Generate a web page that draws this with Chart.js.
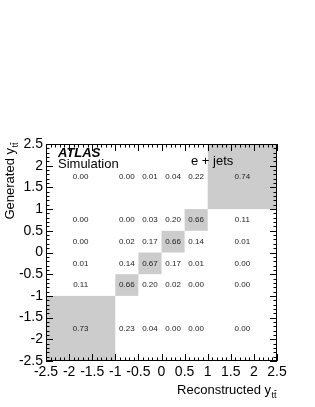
<!DOCTYPE html>
<html><head><meta charset="utf-8">
<script src="https://cdn.jsdelivr.net/npm/chart.js@4/dist/chart.umd.min.js"></script>
<style>html,body{margin:0;padding:0;background:#fff;}canvas{display:block}</style>
</head><body>
<div style="width:315px;height:407px"><canvas id="c" width="315" height="407"></canvas></div>
<script>
// Bin edges (rapidity of the ttbar system)
const recoEdges = [-2.5, -1, -0.5, 0, 0.5, 1, 2.5];
const genEdges  = [-2.5, -1, -0.5, 0, 0.5, 1, 2.5];
const xTickLabels = ['-2.5','-2','-1.5','-1','-0.5','0','0.5','1','1.5','2','2.5'];
const yTickLabels = ['-2.5','-2','-1.5','-1','-0.5','0','0.5','1','1.5','2','2.5'];
// Migration fractions, one array per generated bin (bottom to top), reconstructed bins left to right
const genBin1 = [0.73, 0.23, 0.04, 0.00, 0.00, 0.00];
const genBin2 = [0.11, 0.66, 0.20, 0.02, 0.00, 0.00];
const genBin3 = [0.01, 0.14, 0.67, 0.17, 0.01, 0.00];
const genBin4 = [0.00, 0.02, 0.17, 0.66, 0.14, 0.01];
const genBin5 = [0.00, 0.00, 0.03, 0.20, 0.66, 0.11];
const genBin6 = [0.00, 0.00, 0.01, 0.04, 0.22, 0.74];
const xTitle = 'Reconstructed y';
const yTitle = 'Generated y';
const subTitle = 'tt';
const atlasLabel = 'ATLAS';
const simLabel = 'Simulation';
const channelLabel = 'e + jets';

const matrix = [genBin1, genBin2, genBin3, genBin4, genBin5, genBin6];
const FONT = '"Liberation Sans", Arial, Helvetica, sans-serif';

const cellPlugin = {
  id: 'cells',
  beforeDatasetsDraw(chart) {
    const ctx = chart.ctx, xs = chart.scales.x, ys = chart.scales.y;
    ctx.save();
    for (let g = 0; g < matrix.length; g++) {
      for (let r = 0; r < matrix[g].length; r++) {
        if (g !== r) continue;
        const x0 = xs.getPixelForValue(recoEdges[r]), x1 = xs.getPixelForValue(recoEdges[r+1]);
        const y0 = ys.getPixelForValue(genEdges[g+1]), y1 = ys.getPixelForValue(genEdges[g]);
        ctx.fillStyle = 'rgb(204,204,204)';
        ctx.fillRect(x0, y0, x1 - x0, y1 - y0);
      }
    }
    ctx.fillStyle = '#222';
    ctx.font = '8px ' + FONT;
    ctx.textAlign = 'center';
    ctx.textBaseline = 'middle';
    for (let g = 0; g < matrix.length; g++) {
      for (let r = 0; r < matrix[g].length; r++) {
        const cx = xs.getPixelForValue((recoEdges[r] + recoEdges[r+1]) / 2);
        const cy = ys.getPixelForValue((genEdges[g] + genEdges[g+1]) / 2);
        ctx.fillText(matrix[g][r].toFixed(2), cx, cy);
      }
    }
    ctx.restore();
  },
  afterDraw(chart) {
    const ctx = chart.ctx, xs = chart.scales.x, ys = chart.scales.y, a = chart.chartArea;
    ctx.save();
    ctx.strokeStyle = '#000';
    ctx.lineWidth = 1;
    // ticks (inward, mirrored)
    ctx.beginPath();
    for (let k = -25; k <= 25; k++) {
      const v = k / 10;
      const major = (k % 5 === 0);
      const lx = major ? 7 : 3.5;
      const px = Math.round(xs.getPixelForValue(v)) + 0.5;
      ctx.moveTo(px, a.bottom); ctx.lineTo(px, a.bottom - lx);
      ctx.moveTo(px, a.top); ctx.lineTo(px, a.top + lx);
      const py = Math.round(ys.getPixelForValue(v)) + 0.5;
      ctx.moveTo(a.left, py); ctx.lineTo(a.left + lx, py);
      ctx.moveTo(a.right, py); ctx.lineTo(a.right - lx, py);
    }
    ctx.stroke();
    ctx.strokeRect(Math.round(a.left) + 0.5, Math.round(a.top) + 0.5, Math.round(a.right - a.left) - 1, Math.round(a.bottom - a.top) - 1);
    // labels
    ctx.fillStyle = '#000';
    ctx.textBaseline = 'alphabetic';
    ctx.textAlign = 'left';
    ctx.font = 'italic bold 13px ' + FONT;
    ctx.fillText(atlasLabel, 58, 157);
    ctx.font = '13px ' + FONT;
    ctx.fillText(simLabel, 58, 168);
    ctx.fillText(channelLabel, 191, 165);
    // axis titles with t-tbar subscript
    const drawTitle = (main, x, y) => {
      ctx.font = '13px ' + FONT;
      ctx.textAlign = 'left';
      ctx.fillText(main, x, y);
      const w = ctx.measureText(main).width;
      ctx.font = '9px ' + FONT;
      const sx = x + w + 0.5, sy = y + 4;
      ctx.fillText(subTitle, sx, sy);
      const tw = ctx.measureText('t').width;
      ctx.beginPath();
      ctx.moveTo(sx + tw + 0.3, sy - 7.5); ctx.lineTo(sx + 2 * tw, sy - 7.5);
      ctx.lineWidth = 0.8; ctx.stroke();
    };
    ctx.font = '13px ' + FONT;
    const xw = ctx.measureText(xTitle).width;
    ctx.font = '9px ' + FONT;
    const sw = ctx.measureText(subTitle).width;
    drawTitle(xTitle, 277 - xw - sw - 1, 394);
    ctx.save();
    ctx.translate(14, 142);
    ctx.rotate(-Math.PI / 2);
    ctx.font = '13px ' + FONT;
    const yw = ctx.measureText(yTitle).width;
    drawTitle(yTitle, -(yw + sw + 1), 0);
    ctx.restore();
    ctx.restore();
  }
};

new Chart(document.getElementById('c'), {
  type: 'scatter',
  data: { datasets: [{ data: [], pointRadius: 0 }] },
  options: {
    responsive: false,
    devicePixelRatio: 1,
    animation: false,
    plugins: { legend: { display: false }, tooltip: { enabled: false } },
    layout: { padding: { top: 144, right: 38, left: 0, bottom: 0 } },
    scales: {
      x: {
        type: 'linear', min: -2.5, max: 2.5,
        grid: { display: false, drawTicks: false },
        border: { display: false },
        ticks: {
          stepSize: 0.5, autoSkip: false, maxRotation: 0, padding: 3,
          color: '#000', font: { family: FONT, size: 14 },
          callback: (v, i) => xTickLabels[i]
        },
        afterFit: s => { s.height = 46; }
      },
      y: {
        type: 'linear', min: -2.5, max: 2.5,
        grid: { display: false, drawTicks: false },
        border: { display: false },
        ticks: {
          stepSize: 0.5, autoSkip: false, padding: 3,
          color: '#000', font: { family: FONT, size: 14 },
          callback: (v, i) => yTickLabels[i]
        },
        afterFit: s => { s.width = 46; }
      }
    }
  },
  plugins: [cellPlugin]
});
</script>
</body></html>
